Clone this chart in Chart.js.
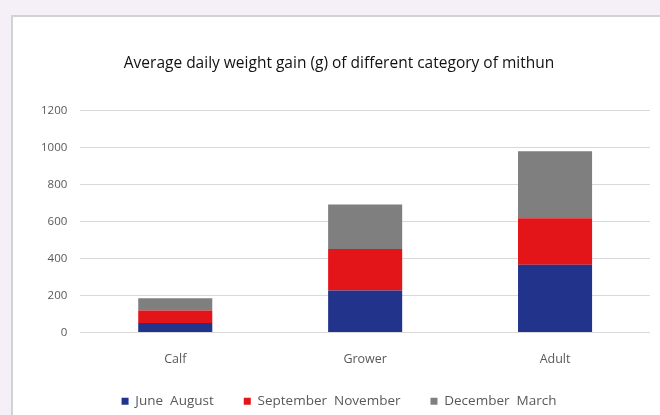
<!DOCTYPE html>
<html>
<head>
<meta charset="utf-8">
<script src="https://cdn.jsdelivr.net/npm/chart.js@4.4.0/dist/chart.umd.min.js"></script>
<style>
    html, body { margin: 0; padding: 0; }
    body { width: 660px; height: 415px; background: #f5f0f7; position: relative; overflow: hidden; }
    .card { position: absolute; left: 11px; top: 15px; width: 680px; height: 430px; background: #fff;
            border-left: 2px solid #d2d2d2; border-top: 2px solid #d2d2d2; }
    #chart { position: absolute; left: 0; top: 0; }
</style>
</head>
<body>
<div class="card"></div>
<canvas id="chart" width="660" height="415"></canvas>
<script>
// Données
const categories = ['Calf', 'Grower', 'Adult'];
const juneAugust = [52, 227, 366];
const septNov = [67, 225, 252];
const decMarch = [66, 240, 362];
const seriesNames = ['June  August', 'September  November', 'December  March'];
const yTicks = [0, 200, 400, 600, 800, 1000, 1200];

const fam = "'Open Sans', 'Noto Sans', sans-serif";

new Chart(document.getElementById('chart'), {
    type: 'bar',
    data: {
        labels: categories,
        datasets: [
            { label: seriesNames[0], data: juneAugust, backgroundColor: '#22338b' },
            { label: seriesNames[1], data: septNov, backgroundColor: '#e31518' },
            { label: seriesNames[2], data: decMarch, backgroundColor: '#7f7f7f' }
        ]
    },
    options: {
        responsive: false,
        animation: false,
        barPercentage: 0.78,
        categoryPercentage: 0.5,
        layout: { padding: { top: 54, left: 28, right: 10, bottom: -3 } },
        plugins: {
            title: {
                display: true,
                text: 'Average daily weight gain (g) of different category of mithun',
                color: '#111',
                font: { family: fam, size: 15.5, weight: 'normal' },
                padding: { top: 0, bottom: 38 }
            },
            legend: {
                position: 'bottom',
                labels: {
                    color: '#595959',
                    font: { family: fam, size: 13.5 },
                    boxWidth: 7,
                    boxHeight: 7,
                    padding: 30
                }
            },
            tooltip: { enabled: false }
        },
        scales: {
            x: {
                stacked: true,
                grid: { display: false, drawTicks: false },
                border: { display: false },
                ticks: { color: '#595959', font: { family: fam, size: 12.5 }, padding: 19 },
                // rapproche le graphique de la légende
                afterFit: axis => { axis.height -= 21; }
            },
            y: {
                stacked: true,
                min: 0,
                max: 1200,
                afterBuildTicks: axis => { axis.ticks = yTicks.map(v => ({ value: v })); },
                grid: { color: '#d9d9d9', drawTicks: false },
                border: { display: false },
                ticks: {
                    color: '#595959',
                    font: { family: fam, size: 11.5 },
                    padding: 13,
                    callback: v => String(v)
                }
            }
        }
    }
});
</script>
</body>
</html>
